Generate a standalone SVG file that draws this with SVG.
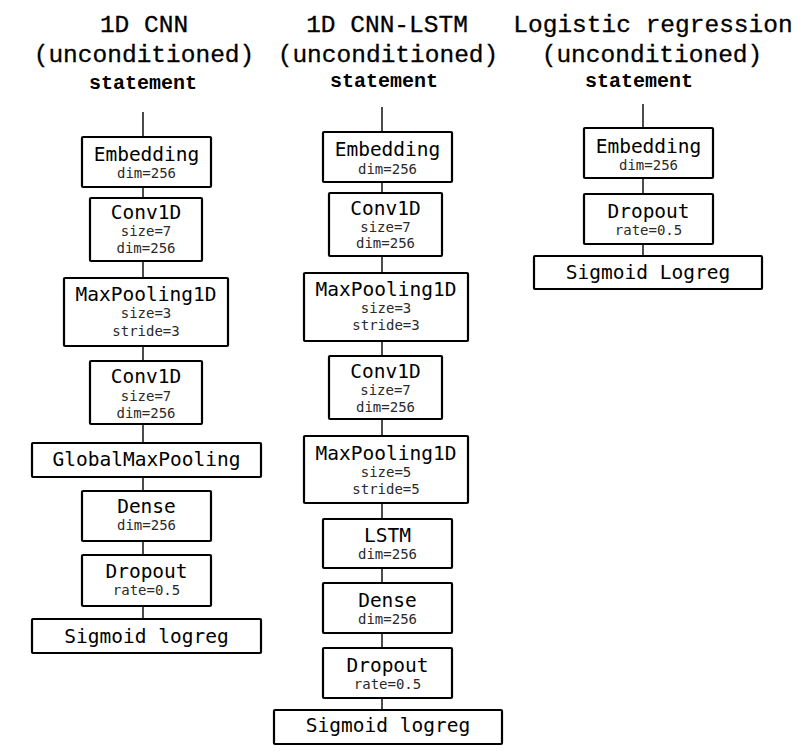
<svg xmlns="http://www.w3.org/2000/svg" width="811" height="755" viewBox="0 0 811 755">
<style>
.bg{fill:#fff}
.box{fill:#fff;stroke:#000;stroke-width:2.2}
.ln{stroke:#000;stroke-width:1.4;fill:none}
.title{font-family:"Liberation Mono","DejaVu Sans Mono",monospace;font-size:24.5px;fill:#000;stroke:#000;stroke-width:0.3;text-anchor:middle}
.st{font-family:"Liberation Mono","DejaVu Sans Mono",monospace;font-size:20px;font-weight:bold;fill:#000;text-anchor:middle}
.lb{font-family:"DejaVu Sans Mono",monospace;font-size:19.5px;fill:#000;text-anchor:middle}
.sm{font-family:"DejaVu Sans Mono",monospace;font-size:14px;fill:#2a2a2a;text-anchor:middle}
</style>
<rect class="bg" x="0" y="0" width="811" height="755"/>
<g id="titles">
<text class="title" x="144" y="32">1D CNN</text>
<text class="title" x="144" y="62">(unconditioned)</text>
<text class="st" x="143" y="89">statement</text>
<text class="title" x="387" y="32">1D CNN-LSTM</text>
<text class="title" x="388" y="62">(unconditioned)</text>
<text class="st" x="384" y="87">statement</text>
<text class="title" x="653" y="32">Logistic regression</text>
<text class="title" x="652" y="62">(unconditioned)</text>
<text class="st" x="639" y="87">statement</text>
</g>
<g id="connectors">
<path class="ln" d="M143 112V137M143 187V198M143 261V278M143 346V361M143 424V443M143 477V491M143 541V555M143 606V619"/>
<path class="ln" d="M382 107V132M382 182V193M382 256V273M382 341V356M382 419V436M382 503V519M382 568V583M382 633V648M382 698V710"/>
<path class="ln" d="M643 104V128M643 178V194M643 244V256"/>
</g>
<g id="c1-embedding"><rect class="box" x="82" y="137" width="129" height="50" rx="1"/><text class="lb" x="146.5" y="160.5">Embedding</text><text class="sm" x="146.5" y="178">dim=256</text></g>
<g id="c1-conv1"><rect class="box" x="90" y="198" width="112" height="63" rx="1"/><text class="lb" x="146" y="219">Conv1D</text><text class="sm" x="146" y="236">size=7</text><text class="sm" x="146" y="253">dim=256</text></g>
<g id="c1-maxpool"><rect class="box" x="64" y="278" width="164" height="68" rx="1"/><text class="lb" x="146" y="301">MaxPooling1D</text><text class="sm" x="146" y="318">size=3</text><text class="sm" x="146" y="336">stride=3</text></g>
<g id="c1-conv2"><rect class="box" x="90" y="361" width="112" height="63" rx="1"/><text class="lb" x="146" y="383">Conv1D</text><text class="sm" x="146" y="401">size=7</text><text class="sm" x="146" y="418">dim=256</text></g>
<g id="c1-globalmax"><rect class="box" x="32" y="443" width="229" height="34" rx="1"/><text class="lb" x="146.5" y="466">GlobalMaxPooling</text></g>
<g id="c1-dense"><rect class="box" x="82" y="491" width="129" height="50" rx="1"/><text class="lb" x="146.5" y="513">Dense</text><text class="sm" x="146.5" y="530">dim=256</text></g>
<g id="c1-dropout"><rect class="box" x="82" y="555" width="129" height="51" rx="1"/><text class="lb" x="146.5" y="578">Dropout</text><text class="sm" x="146.5" y="595">rate=0.5</text></g>
<g id="c1-sigmoid"><rect class="box" x="32" y="619" width="229" height="34" rx="1"/><text class="lb" x="146.5" y="643">Sigmoid logreg</text></g>
<g id="c2-embedding"><rect class="box" x="323" y="132" width="129" height="50" rx="1"/><text class="lb" x="387.5" y="156">Embedding</text><text class="sm" x="387.5" y="173.5">dim=256</text></g>
<g id="c2-conv1"><rect class="box" x="329" y="193" width="113" height="63" rx="1"/><text class="lb" x="385.5" y="215">Conv1D</text><text class="sm" x="385.5" y="232">size=7</text><text class="sm" x="385.5" y="248">dim=256</text></g>
<g id="c2-maxpool1"><rect class="box" x="304" y="273" width="164" height="68" rx="1"/><text class="lb" x="386" y="296">MaxPooling1D</text><text class="sm" x="386" y="313">size=3</text><text class="sm" x="386" y="330">stride=3</text></g>
<g id="c2-conv2"><rect class="box" x="329" y="356" width="113" height="63" rx="1"/><text class="lb" x="385.5" y="378">Conv1D</text><text class="sm" x="385.5" y="395">size=7</text><text class="sm" x="385.5" y="412">dim=256</text></g>
<g id="c2-maxpool2"><rect class="box" x="304" y="436" width="164" height="67" rx="1"/><text class="lb" x="386" y="460">MaxPooling1D</text><text class="sm" x="386" y="477">size=5</text><text class="sm" x="386" y="494">stride=5</text></g>
<g id="c2-lstm"><rect class="box" x="323" y="519" width="129" height="49" rx="1"/><text class="lb" x="387.5" y="542">LSTM</text><text class="sm" x="387.5" y="559">dim=256</text></g>
<g id="c2-dense"><rect class="box" x="323" y="583" width="129" height="50" rx="1"/><text class="lb" x="387.5" y="607">Dense</text><text class="sm" x="387.5" y="624">dim=256</text></g>
<g id="c2-dropout"><rect class="box" x="323" y="648" width="129" height="50" rx="1"/><text class="lb" x="387.5" y="672">Dropout</text><text class="sm" x="387.5" y="689">rate=0.5</text></g>
<g id="c2-sigmoid"><rect class="box" x="274" y="710" width="228" height="34" rx="1"/><text class="lb" x="388" y="732">Sigmoid logreg</text></g>
<g id="c3-embedding"><rect class="box" x="584" y="128" width="129" height="50" rx="1"/><text class="lb" x="648.5" y="153">Embedding</text><text class="sm" x="648.5" y="170">dim=256</text></g>
<g id="c3-dropout"><rect class="box" x="584" y="194" width="129" height="50" rx="1"/><text class="lb" x="648.5" y="218">Dropout</text><text class="sm" x="648.5" y="235">rate=0.5</text></g>
<g id="c3-sigmoid"><rect class="box" x="534" y="256" width="228" height="33" rx="1"/><text class="lb" x="648" y="279">Sigmoid Logreg</text></g>
</svg>
